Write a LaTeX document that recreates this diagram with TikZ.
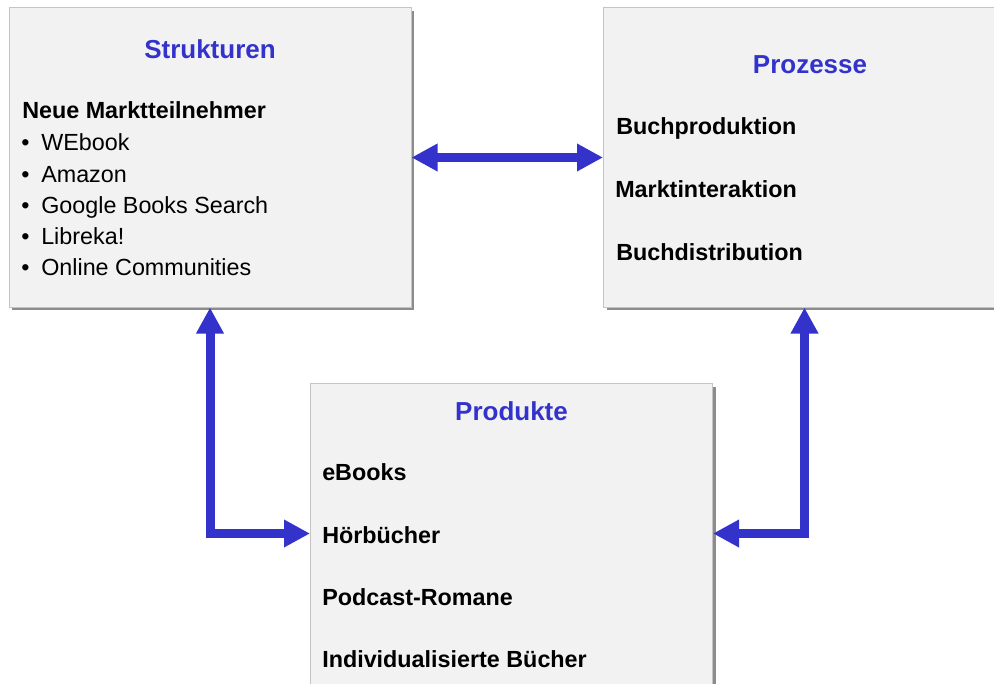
\documentclass[tikz,border=0pt]{standalone}
\usepackage{fontspec}
\setmainfont{Liberation Sans}
\usetikzlibrary{arrows.meta,shadows}
\definecolor{arrowblue}{HTML}{3333CC}
\definecolor{boxfill}{HTML}{F2F2F2}
\definecolor{boxline}{HTML}{C4C4C4}
\definecolor{shadowgray}{HTML}{8C8C8C}
\tikzset{
  panel/.style={rectangle, draw=boxline, line width=0.75pt, fill=boxfill,
    minimum width=301.5pt, minimum height=224.25pt, inner sep=0pt,
    drop shadow={shadow xshift=2.25pt, shadow yshift=-2.25pt, fill=shadowgray, opacity=1}},
  paneltitle/.style={anchor=base, inner sep=0pt, text=arrowblue,
    font=\bfseries\fontsize{19.5}{23}\selectfont},
  item/.style={anchor=base west, inner sep=0pt, text=black,
    font=\bfseries\fontsize{17.5}{21}\selectfont},
  listitem/.style={anchor=base west, inner sep=0pt, text=black,
    font=\fontsize{17.5}{21}\selectfont},
  conn/.style={draw=arrowblue, line width=6.75pt, line join=miter,
    {Triangle[length=19.5pt,width=19.5pt]}-{Triangle[length=19.5pt,width=19.5pt]}}
}
\begin{document}
\begin{tikzpicture}[x=0.75pt,y=-0.75pt]
\useasboundingbox (0,0) rectangle (994,684);
\clip (0,0) rectangle (994,684);
\fill[white] (0,0) rectangle (994,684);

% panels
\node[panel] (s) at (210,157.5) {};
\node[panel] (p) at (804.5,157.5) {};
\node[panel, minimum height=240pt, anchor=north] (k) at (511.5,383) {};
\coordinate (kw) at ([yshift=7.5pt]k.west);
\coordinate (ke) at ([yshift=7.5pt]k.east);

% Strukturen
\node[paneltitle] (st) at (210,59) {Strukturen};
\node[item] (s0) at (22,119) {Neue Marktteilnehmer};
\node[listitem] (b1) at (21,151) {•};
\node[listitem] (s1) at (41,151) {WEbook};
\node[listitem] (b2) at (21,183) {•};
\node[listitem] (s2) at (41,183) {Amazon};
\node[listitem] (b3) at (21,213.5) {•};
\node[listitem] (s3) at (41,213.5) {Google Books Search};
\node[listitem] (b4) at (21,244) {•};
\node[listitem] (s4) at (41,244) {Libreka!};
\node[listitem] (b5) at (21,275) {•};
\node[listitem] (s5) at (41,275) {Online Communities};

% Prozesse
\node[paneltitle] (pt) at (810,74) {Prozesse};
\node[item] (p1) at (616,135) {Buchproduktion};
\node[item] (p2) at (615,198) {Marktinteraktion};
\node[item] (p3) at (616,260) {Buchdistribution};

% Produkte
\node[paneltitle] (kt) at (511.5,420) {Produkte};
\node[item] (k1) at (322,480) {eBooks};
\node[item] (k2) at (322,543) {Hörbücher};
\node[item] (k3) at (322,605) {Podcast-Romane};
\node[item] (k4) at (322,667) {Individualisierte Bücher};

% connectors
\draw[conn] (s.east) -- (p.west);
\draw[conn] (s.south) |- (kw);
\draw[conn] (p.south) |- (ke);
\end{tikzpicture}
\end{document}
